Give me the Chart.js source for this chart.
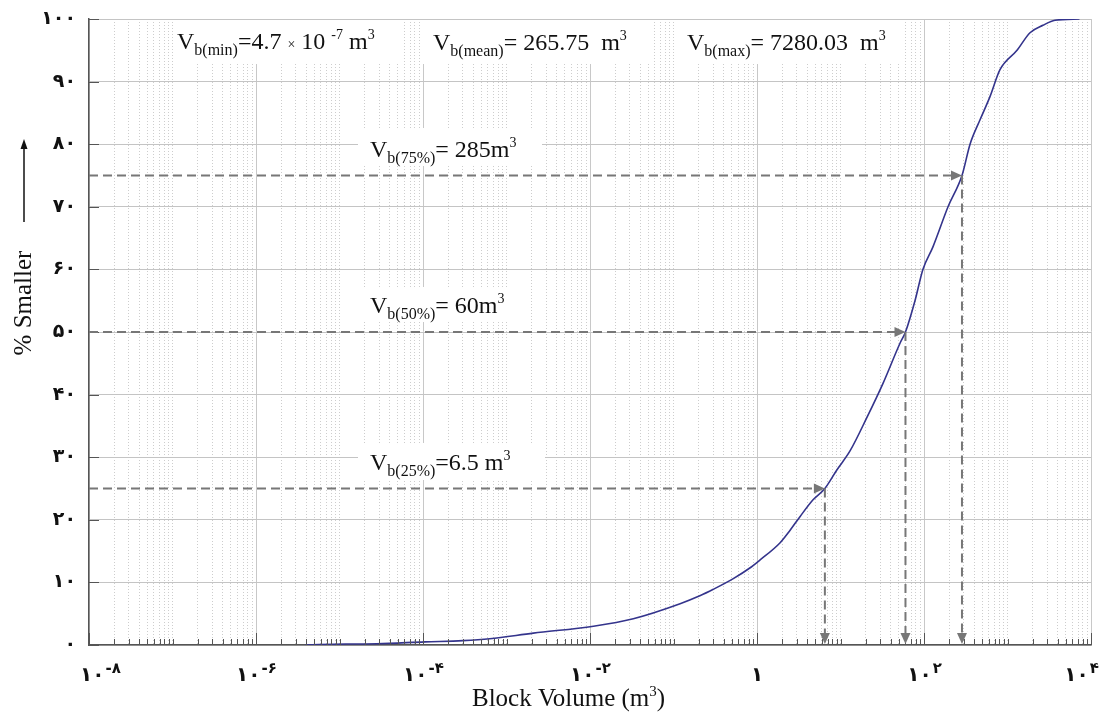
<!DOCTYPE html>
<html><head><meta charset="utf-8">
<script src="https://cdn.jsdelivr.net/npm/chart.js@4"></script>
<style>html,body{margin:0;padding:0;background:#fff}#wrap{width:1100px;height:712px}</style>
</head><body><div id="wrap"><canvas id="c" width="1100" height="712"></canvas></div>
<script>
// ---- data ----
const blockVolumes = [3.9e-6, 1.2e-5, 2.8e-5, 1.06e-4, 3.0e-4, 6.3e-4, 2.1e-3, 1.1e-2, 3.3e-2, 0.12, 0.21, 0.30, 0.52, 0.82, 1.09, 1.88, 2.48, 3.27, 4.69, 6.5, 9.08, 13.0, 20.8, 32.3, 51.6, 60, 78, 97, 128, 194, 285, 356, 469, 617, 813, 1300, 1860, 2660, 3700, 7280];
const percentSmaller = [0, 0.15, 0.2, 0.5, 0.7, 1.0, 1.9, 3.0, 4.2, 6.6, 7.9, 8.9, 10.6, 12.3, 13.6, 16.3, 18.3, 20.5, 23.2, 25, 28, 31, 36.4, 41.8, 48.2, 50, 55, 60, 63.6, 70, 75, 80, 83.9, 87.6, 91.9, 95, 97.8, 99, 99.8, 100];
const quartileVolumes = [6.5, 60, 285];
const quartilePercents = [25, 50, 75];
const quartileNames = ['25%', '50%', '75%'];
const quartileTexts = ['=6.5 m', '= 60m', '= 285m'];
const yTickValues = [0, 10, 20, 30, 40, 50, 60, 70, 80, 90, 100];
const yTickLabels = ['۰', '۱۰', '۲۰', '۳۰', '۴۰', '۵۰', '۶۰', '۷۰', '۸۰', '۹۰', '۱۰۰'];
const xTickValues = [1e-8, 1e-6, 1e-4, 1e-2, 1, 1e2, 1e4];
const xTickBases = ['۱۰', '۱۰', '۱۰', '۱۰', '۱', '۱۰', '۱۰'];
const xTickExponents = ['-۸', '-۶', '-۴', '-۲', '', '۲', '۴'];
const xGridValues = [];
for (let e = -8; e < 4; e++) for (let m = 1; m <= 9; m++) xGridValues.push(Number(m + 'e' + e));
xGridValues.push(1e4);

const isMajor = v => { const l = Math.log10(v); const r = Math.round(l); return Math.abs(l - r) < 1e-9 && r % 2 === 0; };
const SERIF = "'Liberation Serif', 'Times New Roman', serif";
const DIG = "'DejaVu Sans', sans-serif";

function drawRich(ctx, x, y, segs) {
  let cx = x;
  for (const s of segs) {
    ctx.font = s.size + 'px ' + (s.family || SERIF);
    ctx.fillText(s.text, cx, y + (s.dy || 0));
    cx += ctx.measureText(s.text).width;
  }
  return cx;
}

const topBoxes = [
  {x0: 173, x1: 398, y0: 20, y1: 64},
  {x0: 420, x1: 653, y0: 20, y1: 64},
  {x0: 683, x1: 900, y0: 20, y1: 64}
];
const qBoxes = [
  {x0: 358, x1: 545, y0: 443, y1: 480, tx: 370, ty: 470},
  {x0: 358, x1: 530, y0: 287, y1: 322, tx: 370, ty: 313},
  {x0: 358, x1: 542, y0: 128, y1: 166, tx: 370, ty: 157}
];

const annot = {
  id: 'annot',
  beforeDatasetsDraw(chart) {
    const ctx = chart.ctx;
    ctx.save();
    ctx.fillStyle = '#fff';
    for (const b of topBoxes.concat(qBoxes)) ctx.fillRect(b.x0, b.y0, b.x1 - b.x0, b.y1 - b.y0);
    ctx.restore();
  },
  afterDatasetsDraw(chart) {
    const ctx = chart.ctx, xs = chart.scales.x, ys = chart.scales.y, a = chart.chartArea;
    ctx.save();
    // inward tick marks
    ctx.strokeStyle = '#555'; ctx.lineWidth = 1;
    for (const v of xGridValues) {
      const px = Math.round(xs.getPixelForValue(v)) + 0.5;
      const len = isMajor(v) ? 12 : 6;
      ctx.beginPath(); ctx.moveTo(px, a.bottom); ctx.lineTo(px, a.bottom - len); ctx.stroke();
    }
    for (const v of yTickValues) {
      const py = Math.round(ys.getPixelForValue(v)) + 0.5;
      ctx.beginPath(); ctx.moveTo(a.left, py); ctx.lineTo(a.left + 10, py); ctx.stroke();
    }
    // quartile dashed guides
    ctx.strokeStyle = '#777'; ctx.fillStyle = '#777'; ctx.lineWidth = 2;
    quartileVolumes.forEach((v, i) => {
      const px = xs.getPixelForValue(v), py = ys.getPixelForValue(quartilePercents[i]);
      ctx.setLineDash([9, 5]);
      ctx.beginPath(); ctx.moveTo(a.left, py); ctx.lineTo(px - 9, py); ctx.stroke();
      ctx.beginPath(); ctx.moveTo(px, py); ctx.lineTo(px, a.bottom - 10); ctx.stroke();
      ctx.setLineDash([]);
      ctx.beginPath(); ctx.moveTo(px, py); ctx.lineTo(px - 11, py - 5); ctx.lineTo(px - 11, py + 5); ctx.closePath(); ctx.fill();
      ctx.beginPath(); ctx.moveTo(px, a.bottom - 1); ctx.lineTo(px - 5, a.bottom - 12); ctx.lineTo(px + 5, a.bottom - 12); ctx.closePath(); ctx.fill();
    });
    // texts
    ctx.fillStyle = '#111'; ctx.textBaseline = 'alphabetic'; ctx.textAlign = 'left';
    drawRich(ctx, 177, 49, [
      {text: 'V', size: 24}, {text: 'b(min)', size: 16, dy: 6}, {text: '=4.7 ', size: 24},
      {text: '×', size: 14}, {text: ' 10 ', size: 24}, {text: '-7', size: 14, dy: -10},
      {text: ' m', size: 24}, {text: '3', size: 14, dy: -10}
    ]);
    drawRich(ctx, 433, 50, [
      {text: 'V', size: 24}, {text: 'b(mean)', size: 16, dy: 6}, {text: '= 265.75  m', size: 24},
      {text: '3', size: 14, dy: -10}
    ]);
    drawRich(ctx, 687, 50, [
      {text: 'V', size: 24}, {text: 'b(max)', size: 16, dy: 6}, {text: '= 7280.03  m', size: 24},
      {text: '3', size: 14, dy: -10}
    ]);
    qBoxes.forEach((b, i) => {
      drawRich(ctx, b.tx, b.ty, [
        {text: 'V', size: 24}, {text: 'b(' + quartileNames[i] + ')', size: 16, dy: 6},
        {text: quartileTexts[i], size: 24}, {text: '3', size: 14, dy: -10}
      ]);
    });
    // y tick labels
    ctx.font = 'bold 19px ' + DIG; ctx.textAlign = 'right'; ctx.textBaseline = 'middle'; ctx.fillStyle = '#111';
    yTickValues.forEach((v, i) => ctx.fillText(yTickLabels[i], a.left - 13, ys.getPixelForValue(v)));
    // x tick labels
    ctx.textBaseline = 'alphabetic'; ctx.textAlign = 'left';
    xTickValues.forEach((v, i) => {
      ctx.font = 'bold 20px ' + DIG; const wb = ctx.measureText(xTickBases[i]).width;
      ctx.font = 'bold 15px ' + DIG; const we = ctx.measureText(xTickExponents[i]).width;
      let cx = xs.getPixelForValue(v) - (wb + we) / 2;
      if (i === 0) cx += 11;
      if (i === xTickValues.length - 1) cx -= 10;
      ctx.font = 'bold 20px ' + DIG; ctx.fillText(xTickBases[i], cx, 681);
      ctx.font = 'bold 15px ' + DIG; ctx.fillText(xTickExponents[i], cx + wb + 1, 673);
    });
    // x title
    drawRich(ctx, 472, 706, [{text: 'Block Volume (m', size: 25}, {text: '3', size: 15, dy: -10}, {text: ')', size: 25}]);
    // y title
    ctx.save();
    ctx.translate(31, 303); ctx.rotate(-Math.PI / 2);
    ctx.font = '25px ' + SERIF; ctx.textAlign = 'center'; ctx.fillText('% Smaller', 0, 0);
    ctx.restore();
    // arrow
    ctx.strokeStyle = '#111'; ctx.fillStyle = '#111'; ctx.lineWidth = 1.5;
    ctx.beginPath(); ctx.moveTo(24, 222); ctx.lineTo(24, 146); ctx.stroke();
    ctx.beginPath(); ctx.moveTo(24, 139); ctx.lineTo(20.5, 149); ctx.lineTo(27.5, 149); ctx.closePath(); ctx.fill();
    ctx.restore();
  }
};

new Chart(document.getElementById('c'), {
  type: 'line',
  data: {
    datasets: [{
      data: blockVolumes.map((v, i) => ({x: v, y: percentSmaller[i]})),
      borderColor: '#34348c', borderWidth: 1.6, pointRadius: 0, tension: 0.3, cubicInterpolationMode: 'monotone', fill: false
    }]
  },
  options: {
    responsive: false, animation: false, devicePixelRatio: 1,
    layout: {padding: {left: 89, right: 9, top: 19, bottom: 67}},
    plugins: {legend: {display: false}, tooltip: {enabled: false}},
    scales: {
      x: {
        type: 'logarithmic', min: 1e-8, max: 1e4,
        afterBuildTicks: s => { s.ticks = xGridValues.map(v => ({value: v, major: isMajor(v)})); },
        ticks: {display: false},
        grid: {drawTicks: false, lineWidth: 1, color: c => (c.tick && isMajor(c.tick.value)) ? '#c8c8c8' : '#cdcdcd'},
        border: {color: '#555', width: 1.5, dash: c => (c.tick && !isMajor(c.tick.value)) ? [1, 2] : []}
      },
      y: {
        type: 'linear', min: 0, max: 100,
        ticks: {display: false, stepSize: 10},
        grid: {drawTicks: false, color: '#c4c4c4', lineWidth: 1},
        border: {color: '#555', width: 1.5}
      }
    }
  },
  plugins: [annot]
});
</script>
</body></html>
